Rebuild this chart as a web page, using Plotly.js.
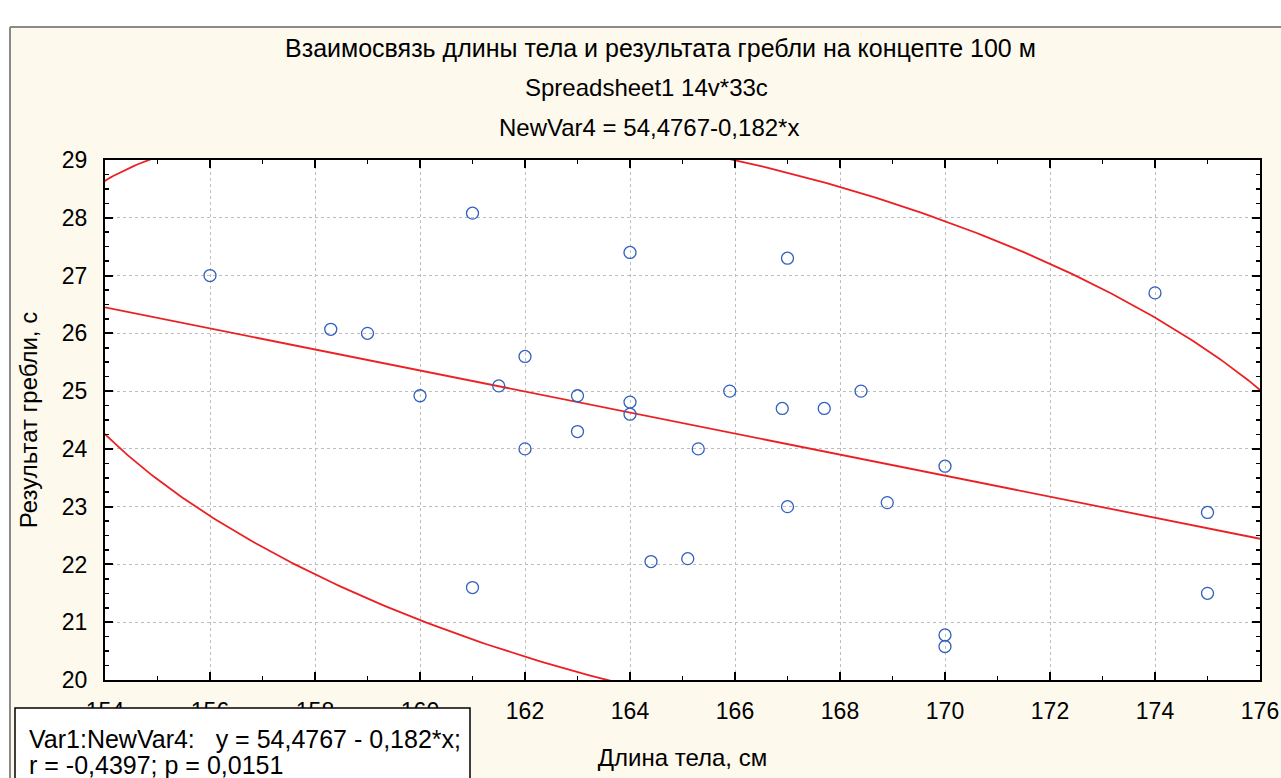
<!DOCTYPE html>
<html>
<head>
<meta charset="utf-8">
<script src="https://cdn.plot.ly/plotly-3.0.1.min.js"></script>
<style>
  html, body { margin: 0; padding: 0; background: #ffffff; }
  #chart { width: 1281px; height: 778px; }
</style>
</head>
<body>
<div id="chart"></div>
<script>
// Body length (cm) and 100 m rowing-ergometer result (s)
const heightCm = [156, 158.3, 159, 160, 161, 161, 161.5, 162, 162, 163,
                  163, 164, 164, 164, 164.4, 165.1, 165.3, 165.9, 166.9, 167,
                  167, 167.7, 168.4, 168.9, 170, 170, 170, 174, 175, 175];
const rowTime  = [27.0, 26.07, 26.0, 24.92, 28.08, 21.6, 25.09, 25.6, 24.0, 24.92,
                  24.3, 27.4, 24.81, 24.6, 22.05, 22.1, 24.0, 25.0, 24.7, 27.3,
                  23.0, 24.7, 25.0, 23.07, 23.7, 20.78, 20.58, 26.7, 22.9, 21.5];

// Fitted line as printed in the header: NewVar4 = 54,4767-0,182*x
const intercept = 54.4767;
const slope = -0.182;

// Axis ranges and ticks
const xRange = [154, 176];
const yRange = [20, 29];
const xTickVals = [154, 156, 158, 160, 162, 164, 166, 168, 170, 172, 174, 176];
const yTickVals = [20, 21, 22, 23, 24, 25, 26, 27, 28, 29];

// 0.95 quantile of F(2, n-2) for n = 30, used for the prediction ellipse
const fQuantile95 = 3.34;

// Text
const titleLines = [
  'Взаимосвязь длины тела и результата гребли на концепте 100 м',
  'Spreadsheet1 14v*33c',
  'NewVar4 = 54,4767-0,182*x'
];
const xTitle = 'Длина тела, см';
const yTitle = 'Результат гребли, с';
const statLines = [
  'Var1:NewVar4:   y = 54,4767 - 0,182*x;',
  'r = -0,4397; p = 0,0151'
];

// ---- derived marks ----
const lineX = xRange.slice();
const lineY = lineX.map(x => intercept + slope * x);

function predictionEllipse(xs, ys, f) {
  const n = xs.length;
  const mx = xs.reduce((a, b) => a + b, 0) / n;
  const my = ys.reduce((a, b) => a + b, 0) / n;
  let sxx = 0, syy = 0, sxy = 0;
  for (let i = 0; i < n; i++) {
    const dx = xs[i] - mx, dy = ys[i] - my;
    sxx += dx * dx; syy += dy * dy; sxy += dx * dy;
  }
  const sx = Math.sqrt(sxx / (n - 1));
  const sy = Math.sqrt(syy / (n - 1));
  const r = sxy / Math.sqrt(sxx * syy);
  const c = 2 * (n - 1) * (n + 1) / (n * (n - 2)) * f;
  const k = Math.sqrt(c);
  const ex = [], ey = [];
  for (let i = 0; i <= 720; i++) {
    const t = (i / 720) * 2 * Math.PI;
    ex.push(mx + k * sx * Math.cos(t));
    ey.push(my + k * sy * (r * Math.cos(t) + Math.sqrt(1 - r * r) * Math.sin(t)));
  }
  return { ex, ey };
}
const ell = predictionEllipse(heightCm, rowTime, fQuantile95);

// ---- page geometry helpers (pixel -> paper) ----
const W = 1281, H = 778;
const M = { l: 105, r: 21, t: 160, b: 98 };
const pw = W - M.l - M.r, ph = H - M.t - M.b;
const px2x = p => (p - M.l) / pw;
const px2y = p => (H - M.b - p) / ph;

const cream = 'rgb(253,249,237)';
const red = 'rgb(236,32,36)';
const font = '"Liberation Sans", Arial, sans-serif';

const traces = [
  {
    x: ell.ex, y: ell.ey, type: 'scatter', mode: 'lines',
    line: { color: red, width: 1.8 }, hoverinfo: 'skip'
  },
  {
    x: lineX, y: lineY, type: 'scatter', mode: 'lines',
    line: { color: red, width: 1.8 }, hoverinfo: 'skip'
  },
  {
    x: heightCm, y: rowTime, type: 'scatter', mode: 'markers',
    marker: { symbol: 'circle-open', size: 12, color: 'rgb(48,96,190)', line: { width: 1.3 } },
    cliponaxis: false
  }
];

const axisCommon = {
  showline: true, linecolor: '#000', linewidth: 2, mirror: 'ticks',
  ticks: 'inside', ticklen: 8, tickwidth: 2, tickcolor: '#000',
  showgrid: true, gridcolor: '#bdbdbd', gridwidth: 1, griddash: 'dot',
  zeroline: false, fixedrange: true,
  tickfont: { family: font, size: 23, color: '#000' }
};

const layout = {
  width: W, height: H,
  margin: M,
  paper_bgcolor: cream,
  plot_bgcolor: '#ffffff',
  showlegend: false,
  font: { family: font, color: '#000' },
  xaxis: Object.assign({}, axisCommon, {
    range: xRange, tickmode: 'array', tickvals: xTickVals,
    ticklabelstandoff: 9,
    minor: { ticks: 'inside', ticklen: 4, tickwidth: 1.5, tickcolor: '#000', dtick: 1, showgrid: false },
    title: { text: xTitle, font: { family: font, size: 24, color: '#000' }, standoff: 27 }
  }),
  yaxis: Object.assign({}, axisCommon, {
    range: yRange, tickmode: 'array', tickvals: yTickVals,
    ticklabelstandoff: 11,
    minor: { ticks: 'inside', ticklen: 4, tickwidth: 1.5, tickcolor: '#000', dtick: 0.25, showgrid: false },
    title: { text: yTitle, font: { family: font, size: 24, color: '#000' }, standoff: 17 }
  }),
  shapes: [
    // white strips outside the chart frame
    { type: 'rect', xref: 'paper', yref: 'paper', layer: 'below',
      x0: px2x(-5), x1: px2x(W + 5), y0: px2y(27), y1: px2y(-5),
      fillcolor: '#ffffff', line: { width: 0 } },
    { type: 'rect', xref: 'paper', yref: 'paper', layer: 'below',
      x0: px2x(-5), x1: px2x(10), y0: px2y(H + 5), y1: px2y(-5),
      fillcolor: '#ffffff', line: { width: 0 } },
    // frame edges
    { type: 'line', xref: 'paper', yref: 'paper', layer: 'below',
      x0: px2x(10), x1: px2x(W + 5), y0: px2y(27), y1: px2y(27),
      line: { color: '#8a8a8a', width: 2 } },
    { type: 'line', xref: 'paper', yref: 'paper', layer: 'below',
      x0: px2x(10), x1: px2x(10), y0: px2y(27), y1: px2y(H + 5),
      line: { color: '#8a8a8a', width: 2 } },
    // statistics box
    { type: 'rect', xref: 'paper', yref: 'paper', layer: 'above',
      x0: px2x(15), x1: px2x(470), y0: px2y(H + 10), y1: px2y(708),
      fillcolor: '#ffffff', line: { color: '#000', width: 1.5 } }
  ],
  annotations: [
    { xref: 'paper', yref: 'paper', x: px2x(660), y: px2y(48), xanchor: 'center', yanchor: 'middle',
      text: titleLines[0], showarrow: false, font: { family: font, size: 25, color: '#000' } },
    { xref: 'paper', yref: 'paper', x: px2x(646), y: px2y(87), xanchor: 'center', yanchor: 'middle',
      text: titleLines[1], showarrow: false, font: { family: font, size: 24, color: '#000' } },
    { xref: 'paper', yref: 'paper', x: px2x(649), y: px2y(127), xanchor: 'center', yanchor: 'middle',
      text: titleLines[2], showarrow: false, font: { family: font, size: 24, color: '#000' } },
    { xref: 'paper', yref: 'paper', x: px2x(27), y: px2y(739), xanchor: 'left', yanchor: 'middle',
      text: statLines[0], showarrow: false, font: { family: font, size: 25, color: '#000' } },
    { xref: 'paper', yref: 'paper', x: px2x(27), y: px2y(765), xanchor: 'left', yanchor: 'middle',
      text: statLines[1], showarrow: false, font: { family: font, size: 25, color: '#000' } }
  ]
};

Plotly.newPlot('chart', traces, layout, { displayModeBar: false, staticPlot: true });
</script>
</body>
</html>
